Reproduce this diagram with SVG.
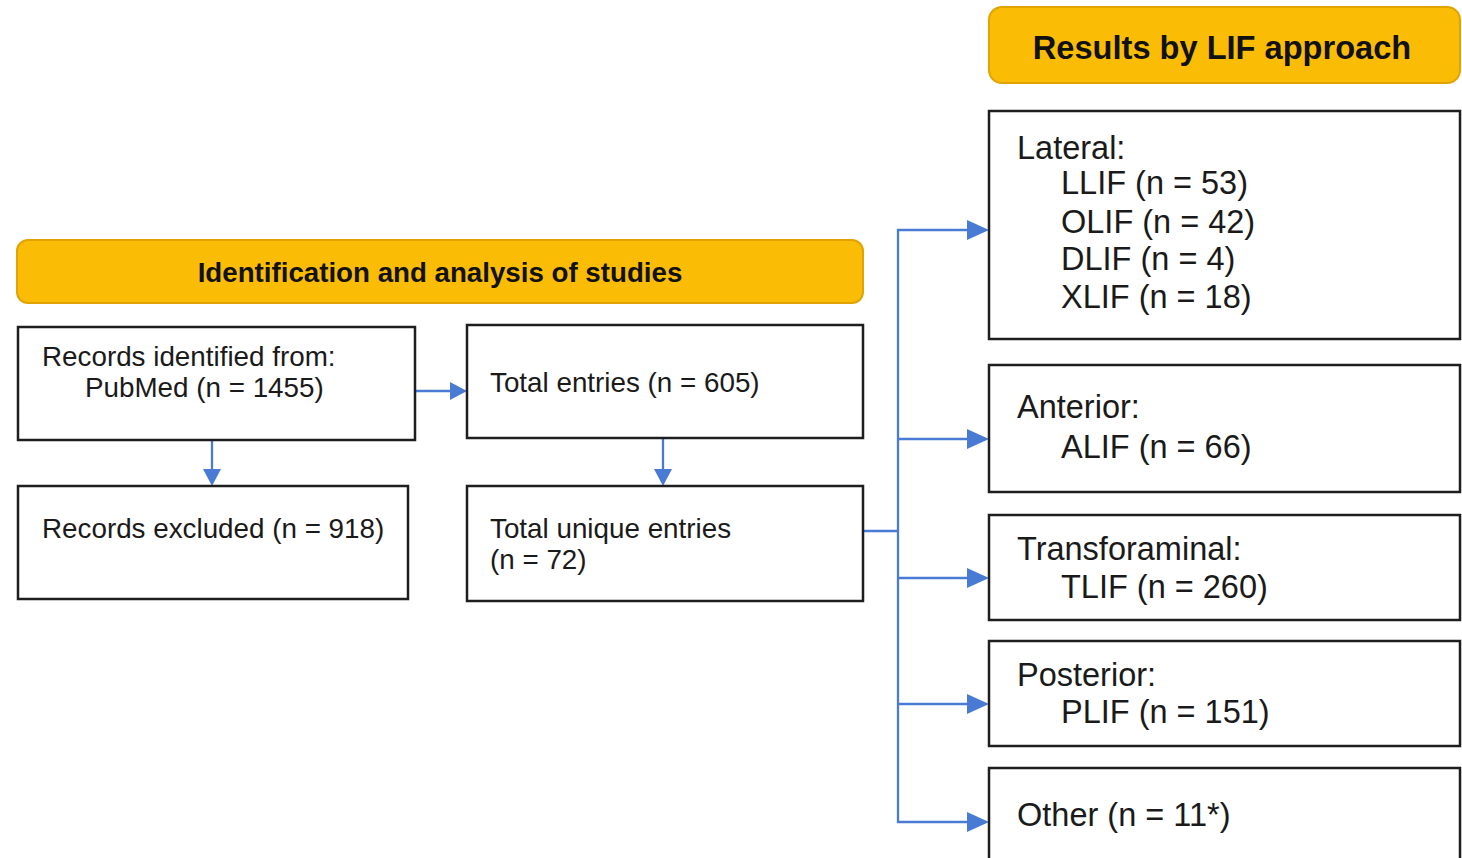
<svg xmlns="http://www.w3.org/2000/svg" width="1462" height="858" viewBox="0 0 1462 858">
<defs>
<style>
.hdr{fill:#fbbc05;stroke:#e0a300;stroke-width:2}
.box{fill:#fff;stroke:#1e1e1e;stroke-width:2.5}
.t{font-family:"Liberation Sans",Arial,sans-serif;font-size:27.8px;fill:#1a1a1a}
.tr{font-family:"Liberation Sans",Arial,sans-serif;font-size:32.5px;fill:#1a1a1a}
.hb{font-family:"Liberation Sans",Arial,sans-serif;font-weight:bold;fill:#111;text-anchor:middle}
.c{fill:none;stroke:#4a7bd4;stroke-width:2.3}
.a{fill:#4a7bd4}
</style>
</defs>
<rect width="1462" height="858" fill="#ffffff"/>
<g id="connectors">
<path class="c" d="M415,391 H452"/>
<path class="a" d="M450,382 L467,391 L450,400 z"/>
<path class="c" d="M212,440 V470"/>
<path class="a" d="M203,469 L212,486 L221,469 z"/>
<path class="c" d="M663,438 V470"/>
<path class="a" d="M654,469 L663,486 L672,469 z"/>
<path class="c" d="M863,531 H898"/>
<path class="c" d="M970,230 H898 V822 H970"/>
<path class="c" d="M898,439 H970"/>
<path class="c" d="M898,578 H970"/>
<path class="c" d="M898,704 H970"/>
<path class="a" d="M967,220 L989,230 L967,240 z"/>
<path class="a" d="M967,429 L989,439 L967,449 z"/>
<path class="a" d="M967,568 L989,578 L967,588 z"/>
<path class="a" d="M967,694 L989,704 L967,714 z"/>
<path class="a" d="M967,812 L989,822 L967,832 z"/>
</g>
<g id="header-results">
<rect class="hdr" x="989" y="7" width="471" height="76" rx="13"/>
<text class="hb" x="1222" y="59" font-size="32.6px">Results by LIF approach</text>
</g>
<g id="header-identification">
<rect class="hdr" x="17" y="240" width="846" height="63" rx="11"/>
<text class="hb" x="440" y="282" font-size="27.7px">Identification and analysis of studies</text>
</g>
<g id="records-identified">
<rect class="box" x="18" y="327" width="397" height="113"/>
<text class="t" x="42" y="366">Records identified from:</text>
<text class="t" x="85" y="397">PubMed (n = 1455)</text>
</g>
<g id="total-entries">
<rect class="box" x="467" y="325" width="396" height="113"/>
<text class="t" x="490" y="392">Total entries (n = 605)</text>
</g>
<g id="records-excluded">
<rect class="box" x="18" y="486" width="390" height="113"/>
<text class="t" x="42" y="538">Records excluded (n = 918)</text>
</g>
<g id="total-unique">
<rect class="box" x="467" y="486" width="396" height="115"/>
<text class="t" x="490" y="538">Total unique entries</text>
<text class="t" x="490" y="569">(n = 72)</text>
</g>
<g id="lateral">
<rect class="box" x="989" y="111" width="471" height="228"/>
<text class="tr" x="1017" y="159">Lateral:</text>
<text class="tr" x="1061" y="194">LLIF (n = 53)</text>
<text class="tr" x="1061" y="233">OLIF (n = 42)</text>
<text class="tr" x="1061" y="270">DLIF (n = 4)</text>
<text class="tr" x="1061" y="308">XLIF (n = 18)</text>
</g>
<g id="anterior">
<rect class="box" x="989" y="365" width="471" height="127"/>
<text class="tr" x="1017" y="418">Anterior:</text>
<text class="tr" x="1061" y="458">ALIF (n = 66)</text>
</g>
<g id="transforaminal">
<rect class="box" x="989" y="515" width="471" height="105"/>
<text class="tr" x="1017" y="560">Transforaminal:</text>
<text class="tr" x="1061" y="598">TLIF (n = 260)</text>
</g>
<g id="posterior">
<rect class="box" x="989" y="641" width="471" height="105"/>
<text class="tr" x="1017" y="686">Posterior:</text>
<text class="tr" x="1061" y="723">PLIF (n = 151)</text>
</g>
<g id="other">
<rect class="box" x="989" y="768" width="471" height="100"/>
<text class="tr" x="1017" y="826">Other (n = 11*)</text>
</g>
</svg>
